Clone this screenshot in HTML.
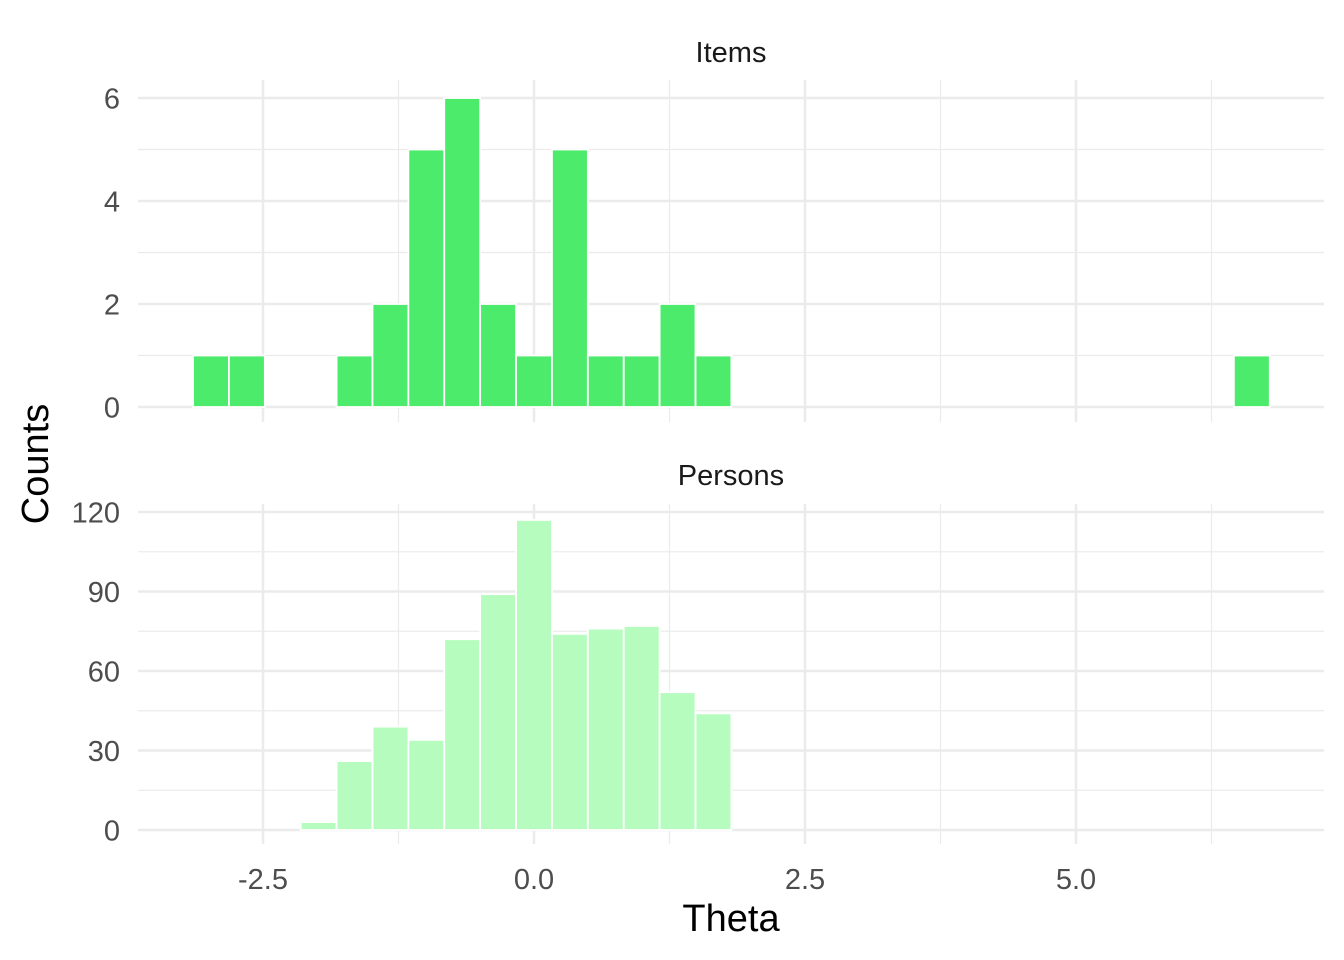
<!DOCTYPE html>
<html><head><meta charset="utf-8">
<style>
html,body{margin:0;padding:0;background:#fff;}
svg{display:block;font-family:"Liberation Sans",Arial,sans-serif;}
</style></head>
<body>
<svg id="chart" width="1344" height="960" viewBox="0 0 1344 960">
<g id="g"></g>
</svg>
<script>
// data
const binCenters = [-9,-8,-7,-6,-5,-4,-3,-2,-1,0,1,2,3,4,5,6,7,8,9,10,11,12,13,14,15,16,17,18,19,20];
const binWidth = 0.3311;
const itemCounts = [1,1,0,0,1,2,5,6,2,1,5,1,1,2,1,0,0,0,0,0,0,0,0,0,0,0,0,0,0,1];
const personCounts = [0,0,0,3,26,39,34,72,89,117,74,76,77,52,44,0,0,0,0,0,0,0,0,0,0,0,0,0,0,0];
const xTicks = [-2.5,0,2.5,5];
const xTickLabels = ["-2.5","0.0","2.5","5.0"];
const xMinor = [-1.25,1.25,3.75,6.25];
const itemYTicks = [0,2,4,6];
const itemYMinor = [1,3,5];
const personYTicks = [0,30,60,90,120];
const personYMinor = [15,45,75,105];

const NS="http://www.w3.org/2000/svg";
const g=document.getElementById('g');
const X0=138,X1=1324;
const xs=v=>534+v*108.4;
function el(tag,attrs,parent){const e=document.createElementNS(NS,tag);for(const k in attrs)e.setAttribute(k,attrs[k]);(parent||g).appendChild(e);return e;}

function panel(name,top,bottom,y0,ppu,yT,yM,counts,color,title,titleY){
  const pg=el('g',{});
  
  
  const ys=v=>y0-v*ppu;
  yM.forEach(v=>{const l=el('line',{x1:X0,x2:X1,y1:ys(v),y2:ys(v),stroke:'#ebebeb','stroke-width':1.2},pg);
    });
  xMinor.forEach(v=>{const l=el('line',{x1:xs(v),x2:xs(v),y1:top,y2:bottom,stroke:'#ebebeb','stroke-width':1.2},pg);
    });
  yT.forEach(v=>{const l=el('line',{x1:X0,x2:X1,y1:ys(v),y2:ys(v),stroke:'#ebebeb','stroke-width':2.5},pg);
    
    const t=el('text',{x:120,y:ys(v)+10.5,'text-anchor':'end','font-size':29,fill:'#4d4d4d'},pg);t.textContent=v;
    });
  xTicks.forEach(v=>{const l=el('line',{x1:xs(v),x2:xs(v),y1:top,y2:bottom,stroke:'#ebebeb','stroke-width':2.5},pg);
    });
  binCenters.forEach((c,i)=>{
    const xl=xs((c-0.5)*binWidth), xr=xs((c+0.5)*binWidth);
    const h=counts[i]*ppu;
    const r=el('rect',{x:xl,y:y0-h,width:xr-xl,height:h,fill:color,stroke:'#fff','stroke-width':1.8},pg);
    
  });
  const t=el('text',{x:731,y:titleY,'text-anchor':'middle','font-size':29,fill:'#1a1a1a'},pg);t.textContent=title;
  
}
panel('items',80,422,407,51.5,itemYTicks,itemYMinor,itemCounts,'#4ceb6b','Items',62);
panel('persons',504,844,830,318/120,personYTicks,personYMinor,personCounts,'#b6fcbe','Persons',485);

xTicks.forEach((v,i)=>{const t=el('text',{x:xs(v),y:889,'text-anchor':'middle','font-size':29,fill:'#4d4d4d'});t.textContent=xTickLabels[i];
  });
const xt=el('text',{x:731,y:931,'text-anchor':'middle','font-size':38,fill:'#000'});xt.textContent='Theta';

const yt=el('text',{x:0,y:0,'text-anchor':'middle','font-size':38,fill:'#000',transform:'translate(48,464) rotate(-90)'});yt.textContent='Counts';

</script>
</body></html>
